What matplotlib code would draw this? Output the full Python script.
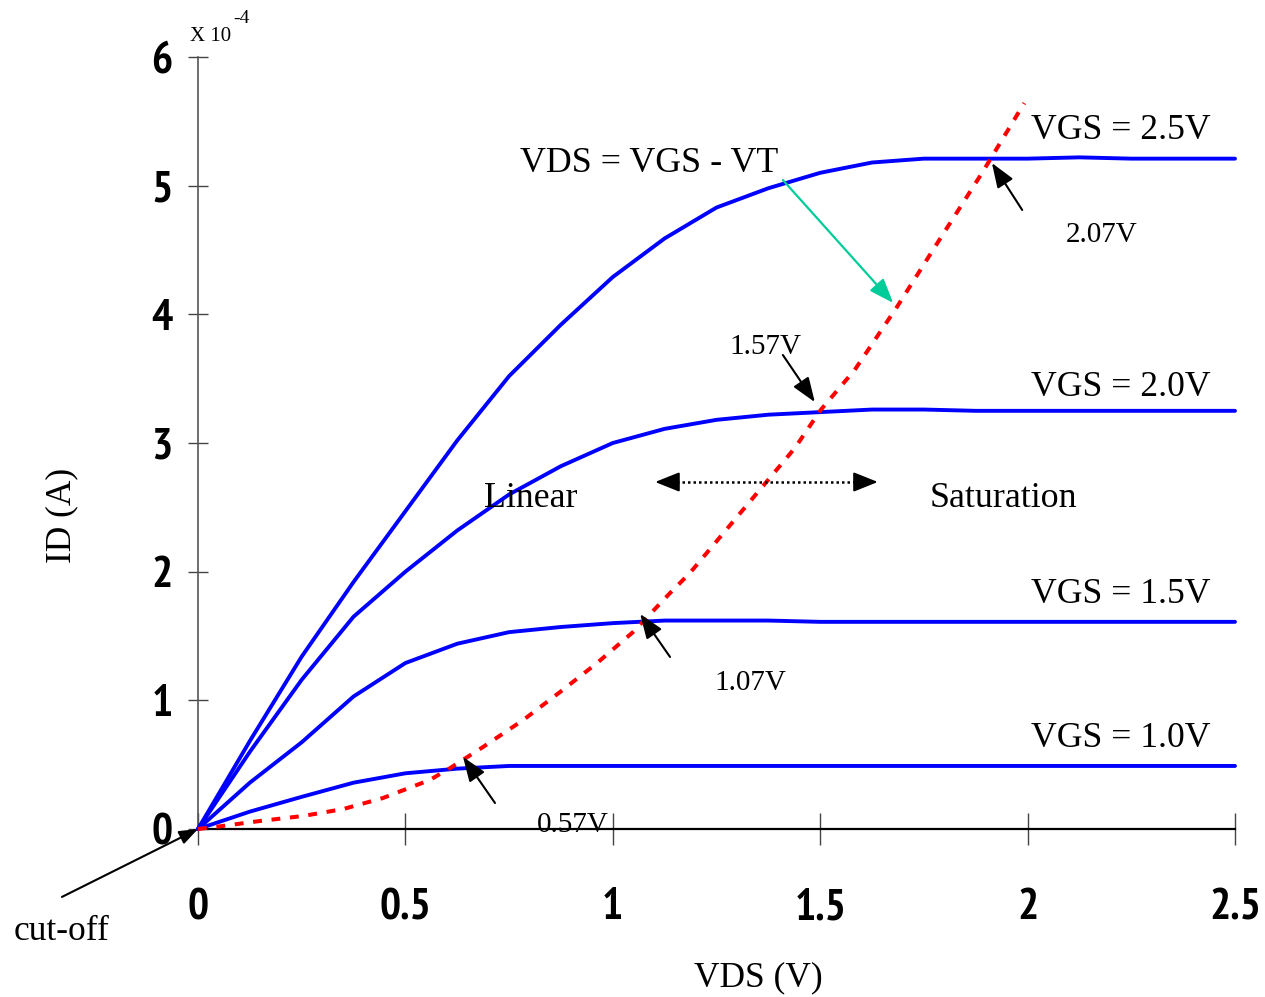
import matplotlib
matplotlib.use("Agg")
import matplotlib.pyplot as plt
import matplotlib.font_manager as fm

# ---------------- data ----------------
VDS = [0, 0.125, 0.25, 0.375, 0.5, 0.625, 0.75, 0.875, 1.0, 1.125, 1.25,
       1.375, 1.5, 1.625, 1.75, 1.875, 2.0, 2.125, 2.25, 2.375, 2.5]

ID_VGS_10 = [0, 0.135, 0.25, 0.36, 0.433, 0.469, 0.49, 0.49, 0.49, 0.49, 0.49,
             0.49, 0.49, 0.49, 0.49, 0.49, 0.49, 0.49, 0.49, 0.49, 0.49]
ID_VGS_15 = [0, 0.36, 0.674, 1.03, 1.29, 1.44, 1.53, 1.57, 1.60, 1.62, 1.62,
             1.62, 1.61, 1.61, 1.61, 1.61, 1.61, 1.61, 1.61, 1.61, 1.61]
ID_VGS_20 = [0, 0.60, 1.16, 1.65, 2.00, 2.32, 2.60, 2.82, 3.00, 3.11, 3.18,
             3.22, 3.24, 3.26, 3.26, 3.25, 3.25, 3.25, 3.25, 3.25, 3.25]
ID_VGS_25 = [0, 0.684, 1.34, 1.92, 2.47, 3.02, 3.52, 3.92, 4.29, 4.59, 4.83,
             4.98, 5.10, 5.18, 5.21, 5.21, 5.21, 5.22, 5.21, 5.21, 5.21]

curves = [ID_VGS_10, ID_VGS_15, ID_VGS_20, ID_VGS_25]
curve_labels = ["VGS = 1.0V", "VGS = 1.5V", "VGS = 2.0V", "VGS = 2.5V"]
curve_label_y = [0.70, 1.82, 3.435, 5.425]

# locus VDS = VGS - VT
VDS_SAT = [0, 0.058, 0.149, 0.253, 0.350, 0.446, 0.559, 0.608, 0.687, 0.784,
           0.873, 0.962, 1.049, 1.138, 1.186, 1.439, 1.501, 1.583, 1.685,
           1.787, 1.890, 1.992]
ID_SAT = [0, 0.023, 0.062, 0.101, 0.155, 0.241, 0.381, 0.474, 0.637, 0.847,
          1.065, 1.290, 1.531, 1.834, 1.990, 2.961, 3.256, 3.567, 4.057,
          4.577, 5.098, 5.642]

XTICKS = [0, 0.5, 1, 1.5, 2, 2.5]
XTICKLABELS = ["0", "0.5", "1", "1.5", "2", "2.5"]
YTICKS = [0, 1, 2, 3, 4, 5, 6]
YTICKLABELS = ["0", "1", "2", "3", "4", "5", "6"]

# ---------------- fonts ----------------
serif = ["Liberation Serif", "DejaVu Serif"]


def pick_narrow_bold():
    best = None
    for f in fm.fontManager.ttflist:
        name = f.name
        if "DejaVu" in name:
            continue
        narrowish = ("Narrow" in name) or ("Condensed" in name) or \
            (str(f.stretch) in ("condensed", "semi-condensed", "extra-condensed"))
        if not narrowish:
            continue
        try:
            w = int(f.weight)
        except (TypeError, ValueError):
            w = 700 if "bold" in str(f.weight).lower() else 400
        score = (1 if "Narrow" in name else 0, 1 if w >= 600 else 0)
        if best is None or score > best[0]:
            best = (score, f)
    if best is not None and best[0][1] == 1:
        return fm.FontProperties(fname=best[1].fname, size=32)
    return fm.FontProperties(family=["Liberation Sans", "DejaVu Sans"],
                             weight="bold", size=28)


tick_font = pick_narrow_bold()

# ---------------- figure ----------------
W, H = 1265, 997
fig = plt.figure(figsize=(W / 100, H / 100), dpi=100)
ax = fig.add_axes([198 / W, 1 - 829 / H, 1037 / W, 772 / H])
ax.set_xlim(0, 2.5)
ax.set_ylim(0, 6)

for c in curves:
    ax.plot(VDS, c, color="#0000FF", lw=2.8, solid_capstyle="round",
            solid_joinstyle="round", zorder=3, clip_on=False)

ax.plot(VDS_SAT, ID_SAT, color="#FF0000", lw=2.9, linestyle=(0, (2.2, 2.4)),
        zorder=4, clip_on=False)

for lab, y in zip(curve_labels, curve_label_y):
    ax.text(2.225, y, lab, ha="center", va="center", fontsize=25.7,
            family=serif, zorder=5)

# spines / ticks
for s in ["top", "right"]:
    ax.spines[s].set_visible(False)
ax.spines["left"].set_color("#555555")
ax.spines["left"].set_linewidth(1.2)
ax.spines["bottom"].set_color("black")
ax.spines["bottom"].set_linewidth(1.6)
ax.spines["bottom"].set_zorder(2)

ax.set_xticks(XTICKS)
ax.set_xticklabels(XTICKLABELS)
ax.set_yticks(YTICKS)
ax.set_yticklabels(YTICKLABELS)
ax.tick_params(axis="x", direction="inout", length=23, width=1.0,
               color="#444444", pad=31)
ax.tick_params(axis="y", direction="inout", length=14.4, width=1.0,
               color="#444444", pad=11)
for t in ax.get_xticklabels() + ax.get_yticklabels():
    t.set_fontproperties(tick_font)


# annotations
def arrow(tail, tip, color="black", lw=1.5, ls="-",
          style="-|>,head_length=0.75,head_width=0.28", scale=20):
    ax.annotate("", xy=tip, xytext=tail,
                arrowprops=dict(arrowstyle=style, color=color, lw=lw,
                                linestyle=ls, mutation_scale=scale,
                                shrinkA=0, shrinkB=0),
                annotation_clip=False, zorder=6)


arrow((0.716, 0.202), (0.639, 0.560))
arrow((1.138, 1.337), (1.066, 1.671))
arrow((1.410, 3.684), (1.487, 3.318))
arrow((1.987, 4.811), (1.914, 5.176))
arrow((1.410, 5.044), (1.676, 4.088), color="#00CC99", lw=1.6)
arrow((-0.328, -0.528), (0.0, 0.0), lw=1.5, scale=15)

# dotted double arrow
ax.plot([1.14, 1.60], [2.697, 2.697], color="black", lw=1.8,
        linestyle=(0, (1, 1.2)), zorder=6)
arrow((1.15, 2.697), (1.102, 2.697), style="-|>,head_length=0.75,head_width=0.3")
arrow((1.59, 2.697), (1.639, 2.697), style="-|>,head_length=0.75,head_width=0.3")

ax.text(1.087, 5.175, "VDS = VGS - VT", ha="center", va="center",
        fontsize=25.8, family=serif)
ax.text(2.179, 4.62, "2.07V", ha="center", va="center", fontsize=21, family=serif)
ax.text(1.369, 3.75, "1.57V", ha="center", va="center", fontsize=21, family=serif)
ax.text(1.331, 1.138, "1.07V", ha="center", va="center", fontsize=21, family=serif)
ax.text(0.904, 0.03, "0.57V", ha="center", va="center", fontsize=21, family=serif)
ax.text(0.803, 2.565, "Linear", ha="center", va="center", fontsize=25.8, family=serif)
ax.text(1.941, 2.565, "Saturation", ha="center", va="center", fontsize=25.8, family=serif)


# axis titles and other text in figure pixels
def ftext(px, py, s, **kw):
    fig.text(px / W, 1 - py / H, s, family=serif, **kw)


ftext(62, 515, "ID (A)", ha="center", va="center", rotation=90, fontsize=25.5)
ftext(758, 978, "VDS (V)", ha="center", va="center", fontsize=25.5)
ftext(62, 931, "cut-off", ha="center", va="center", fontsize=25.5)
ftext(190, 41, "X 10", ha="left", va="baseline", fontsize=15)
ftext(233, 23, "-4", ha="left", va="baseline", fontsize=14)

fig.savefig("out.png", dpi=100)
